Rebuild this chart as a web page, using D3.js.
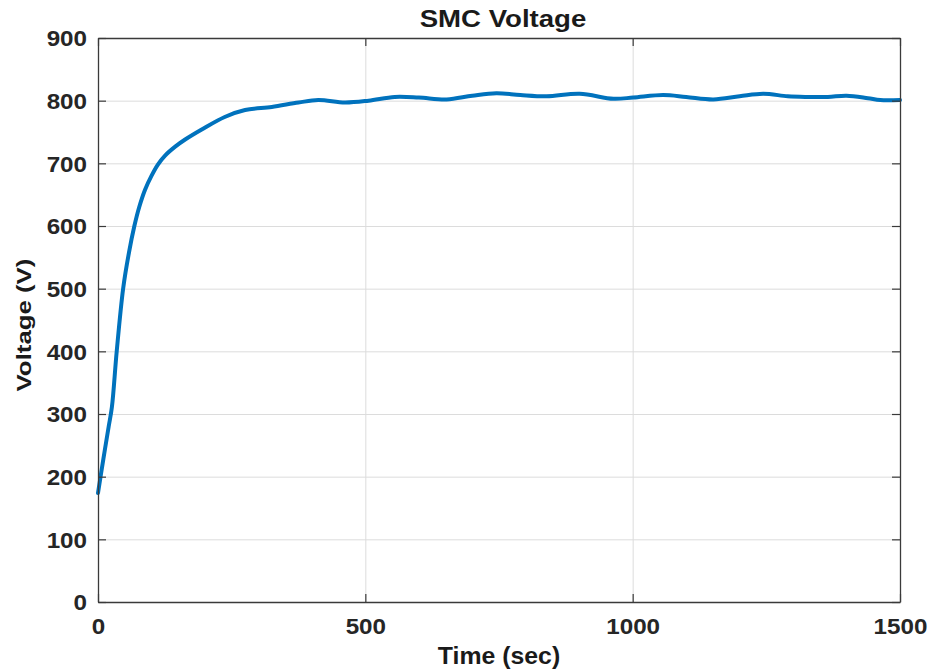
<!DOCTYPE html>
<html>
<head>
<meta charset="utf-8">
<script src="https://cdn.jsdelivr.net/npm/d3@7"></script>
<style>
  body { margin: 0; background: #fff; }
  svg { display: block; }
  .tick text { font-family: "Liberation Sans", Arial, sans-serif; font-weight: bold; fill: #262626; }
</style>
</head>
<body>
<div id="chart"></div>
<script>
// data
var timeSec = [0, 10, 20, 26, 35, 47, 58, 68, 77, 88, 100, 112, 125, 145, 163, 194, 237, 275, 325, 375,
               412, 462, 506, 555, 600, 652, 700, 745, 790, 839, 901, 964, 1001, 1057, 1100, 1151, 1200,
               1244, 1290, 1325, 1365, 1400, 1440, 1463, 1500];
var voltage = [174, 228, 280, 311, 400, 500, 558, 600, 630, 658, 680, 698, 712, 727, 738, 754, 774, 785, 790, 797,
               801, 797, 800, 806, 805, 802, 808, 812, 809, 807, 811, 803, 805, 809, 806, 802, 807,
               811, 807, 806, 806, 808, 804, 801, 801];
var xTicks = [0, 500, 1000, 1500];
var yTicks = [0, 100, 200, 300, 400, 500, 600, 700, 800, 900];

var points = timeSec.map(function(t, i) { return {t: t, v: voltage[i]}; });

var W = 930, H = 671;
var margin = {top: 38, right: 30, bottom: 69, left: 98},
    width = W - margin.left - margin.right,
    height = H - margin.top - margin.bottom;

var svg = d3.select("#chart").append("svg")
    .attr("width", W)
    .attr("height", H);
var g = svg.append("g").attr("transform", "translate(" + margin.left + "," + margin.top + ")");

var x = d3.scaleLinear().domain([0, 1500]).range([0, width]);
var y = d3.scaleLinear().domain([0, 900]).range([height, 0]);

// grid
g.append("g")
  .attr("class", "grid")
  .attr("transform", "translate(0," + height + ")")
  .call(d3.axisBottom(x).tickValues(xTicks).tickSize(-height).tickFormat(""))
  .call(function(s) { s.select(".domain").remove(); });
g.append("g")
  .attr("class", "grid")
  .call(d3.axisLeft(y).tickValues(yTicks).tickSize(-width).tickFormat(""))
  .call(function(s) { s.select(".domain").remove(); });
g.selectAll(".grid line").attr("stroke", "#dcdcdc").attr("stroke-width", 1);

// line
var line = d3.line()
    .x(function(d) { return x(d.t); })
    .y(function(d) { return y(d.v); })
    .curve(d3.curveCatmullRom.alpha(0.5));

g.append("path")
  .datum(points)
  .attr("fill", "none")
  .attr("stroke", "#0072BD")
  .attr("stroke-width", 4)
  .attr("stroke-linejoin", "round")
  .attr("stroke-linecap", "round")
  .attr("d", line);

// axes (inward ticks, box on)
var axisColor = "#3a3a3a";
var xAxis = g.append("g")
  .attr("transform", "translate(0," + height + ")")
  .call(d3.axisBottom(x).tickValues(xTicks).tickSize(-8).tickSizeOuter(0).tickPadding(16).tickFormat(d3.format("d")));
var yAxis = g.append("g")
  .call(d3.axisLeft(y).tickValues(yTicks).tickSize(-8).tickSizeOuter(0).tickPadding(11).tickFormat(d3.format("d")));
var topAxis = g.append("g")
  .call(d3.axisTop(x).tickValues(xTicks).tickSize(-8).tickSizeOuter(0).tickFormat(""));
var rightAxis = g.append("g")
  .attr("transform", "translate(" + width + ",0)")
  .call(d3.axisRight(y).tickValues(yTicks).tickSize(-8).tickSizeOuter(0).tickFormat(""));

[xAxis, yAxis, topAxis, rightAxis].forEach(function(a) {
  a.select(".domain").attr("stroke", axisColor).attr("stroke-width", 1.3);
  a.selectAll(".tick line").attr("stroke", axisColor).attr("stroke-width", 1.2);
});

// tick labels: bold, a little wide
g.selectAll(".tick text").attr("font-size", 22);
yAxis.selectAll(".tick text").attr("transform", "translate(-11,0) scale(1.1,1) translate(11,0)").attr("dy", "0.36em");
xAxis.selectAll(".tick text").attr("transform", "scale(1.1,1)");

function label(txt, px, py, size, stretch, rot) {
  svg.append("g")
    .attr("transform", "translate(" + px + "," + py + ")" + (rot ? " rotate(" + rot + ")" : "") + " scale(" + stretch + ",1)")
    .append("text")
    .attr("text-anchor", "middle")
    .attr("font-family", "'Liberation Sans', Arial, sans-serif")
    .attr("font-weight", "bold")
    .attr("font-size", size)
    .attr("fill", "#1a1a1a")
    .text(txt);
}

label("SMC Voltage", 503, 27, 23, 1.2, 0);
label("Time (sec)", 499, 664, 23, 1.08, 0);
label("Voltage (V)", 31, 325, 21, 1.23, -90);
</script>
</body>
</html>
